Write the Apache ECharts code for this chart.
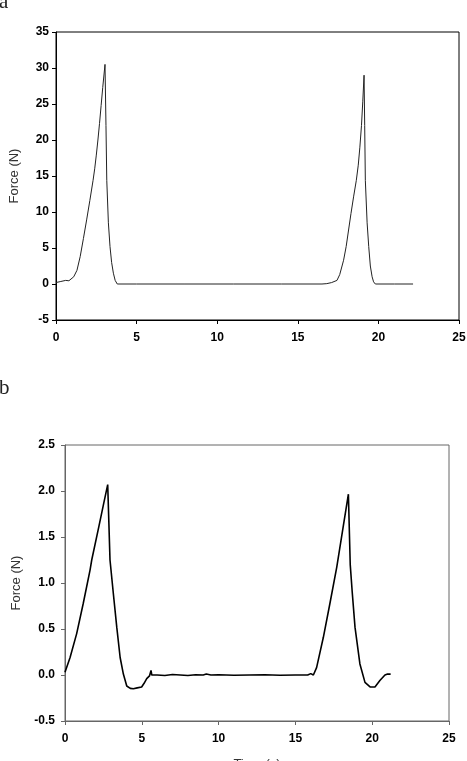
<!DOCTYPE html>
<html>
<head>
<meta charset="utf-8">
<script src="https://cdn.jsdelivr.net/npm/echarts@6/dist/echarts.min.js"></script>
<style>
  html, body { margin: 0; padding: 0; background: #fff; }
  #chart { width: 467px; height: 761px; }
</style>
</head>
<body>
<div id="chart"></div>
<script>
// panel a: force trace
var timeA = [0, 0.3, 0.6, 0.8, 0.9, 1.1, 1.3, 1.5, 1.7, 1.9, 2.1, 2.3, 2.4, 2.5, 2.6, 2.7, 2.8, 2.9, 3.04,
  3.1, 3.15, 3.25, 3.35, 3.45, 3.56, 3.67, 3.8, 5, 8, 11, 14, 16.5,
  16.8, 17.1, 17.43, 17.6, 17.84, 18.0, 18.15, 18.3, 18.46, 18.63, 18.75, 18.85, 18.95, 19.03, 19.11,
  19.15, 19.19, 19.3, 19.4, 19.5, 19.61, 19.7, 19.81, 21, 22.15];
var forceA = [0.2, 0.35, 0.5, 0.45, 0.6, 1.0, 1.9, 3.8, 6.3, 8.9, 11.6, 14.4, 16.0, 17.9, 20.0, 22.3, 24.8, 27.3, 30.5,
  22, 14.4, 8.5, 5.2, 3.0, 1.5, 0.5, 0, 0, 0, 0, 0, 0,
  0.05, 0.2, 0.5, 1.3, 3.3, 5.2, 7.5, 9.8, 12.1, 14.4, 16.5, 19.0, 22.0, 25.3, 29.0,
  22, 14.4, 8.5, 5.2, 2.5, 1.0, 0.3, 0, 0, 0];

// panel b: force trace
var timeB = [0, 0.33, 0.76, 1.19, 1.63, 1.74, 2.2, 2.5, 2.78,
  2.93, 3.15, 3.37, 3.59, 3.8, 4.02, 4.25, 4.45, 4.7, 4.99, 5.15, 5.32, 5.5, 5.6, 5.65,
  6, 6.5, 7, 7.5, 8, 8.5, 9, 9.2, 9.5, 10, 11, 12, 13, 14, 15, 15.8, 16.0, 16.17,
  16.38, 16.82, 17.25, 17.69, 18.1, 18.45,
  18.57, 18.7, 18.88, 19.2, 19.53, 19.86, 20.18, 20.5, 20.83, 21.0, 21.2];
var forceB = [0.03, 0.19, 0.45, 0.78, 1.14, 1.25, 1.61, 1.85, 2.07,
  1.25, 0.88, 0.52, 0.19, 0.01, -0.12, -0.145, -0.15, -0.14, -0.13, -0.09, -0.04, -0.01, 0.05, 0.0,
  0.0, -0.005, 0.005, 0.0, -0.005, 0.003, 0.0, 0.01, 0.0, 0.003, -0.003, 0.0, 0.003, -0.003, 0.0, 0.0, 0.015, 0.0,
  0.08, 0.41, 0.78, 1.17, 1.6, 1.965,
  1.2, 0.9, 0.52, 0.12, -0.08, -0.13, -0.13, -0.06, 0.0, 0.01, 0.01];

function pairs(xs, ys) {
  return xs.map(function (x, i) { return [x, ys[i]]; });
}

var tickFont = { fontFamily: 'Liberation Sans', fontWeight: 'bold', fontSize: 12, color: '#000' };

function xAx(grid, color, name) {
  return {
    type: 'value', gridIndex: grid, min: 0, max: 25, interval: 5,
    name: name, nameLocation: 'middle', nameGap: 37,
    nameTextStyle: { fontFamily: 'Liberation Sans', fontSize: 13, color: '#333' },
    axisLine: { onZero: false, lineStyle: { color: color, width: 1 } },
    axisTick: { show: true, length: 4, lineStyle: { color: color } },
    axisLabel: Object.assign({ margin: 12 }, tickFont),
    splitLine: { show: false }
  };
}

function yAx(grid, color, min, max, interval, gap, margin, fmt) {
  return {
    type: 'value', gridIndex: grid, min: min, max: max, interval: interval,
    name: 'Force (N)', nameLocation: 'middle', nameGap: gap, nameRotate: 90,
    nameTextStyle: { fontFamily: 'Liberation Sans', fontSize: 13, color: '#333' },
    axisLine: { show: true, onZero: false, lineStyle: { color: color, width: 1 } },
    axisTick: { show: true, length: 4, lineStyle: { color: color } },
    axisLabel: Object.assign({ margin: margin, formatter: fmt }, tickFont),
    splitLine: { show: false }
  };
}

var chart = echarts.init(document.getElementById('chart'), null, { renderer: 'canvas' });
chart.setOption({
  animation: false,
  backgroundColor: '#fff',
  title: [
    { text: 'a', left: -1, top: -8, padding: 0,
      textStyle: { fontFamily: 'Liberation Serif', fontSize: 21, fontWeight: 'normal', color: '#222' } },
    { text: 'b', left: -1, top: 378, padding: 0,
      textStyle: { fontFamily: 'Liberation Serif', fontSize: 21, fontWeight: 'normal', color: '#222' } }
  ],
  grid: [
    { left: 56, top: 32, width: 403, height: 288, show: true, borderColor: '#000', borderWidth: 1,
      outerBoundsMode: 'none', containLabel: false },
    { left: 65, top: 445, width: 384, height: 276, show: true, borderColor: '#666', borderWidth: 1,
      outerBoundsMode: 'none', containLabel: false }
  ],
  xAxis: [xAx(0, '#000', ''), xAx(1, '#666', 'Time (s)')],
  yAxis: [
    yAx(0, '#000', -5, 35, 5, 35, 7, function (v) { return String(v); }),
    yAx(1, '#666', -0.5, 2.5, 0.5, 42, 10, function (v) { return v.toFixed(1); })
  ],
  series: [
    { type: 'line', xAxisIndex: 0, yAxisIndex: 0, data: pairs(timeA, forceA),
      showSymbol: false, lineStyle: { color: '#222', width: 1 } },
    { type: 'line', xAxisIndex: 1, yAxisIndex: 1, data: pairs(timeB, forceB),
      showSymbol: false, lineStyle: { color: '#000', width: 1.6 } }
  ]
});
</script>
</body>
</html>
